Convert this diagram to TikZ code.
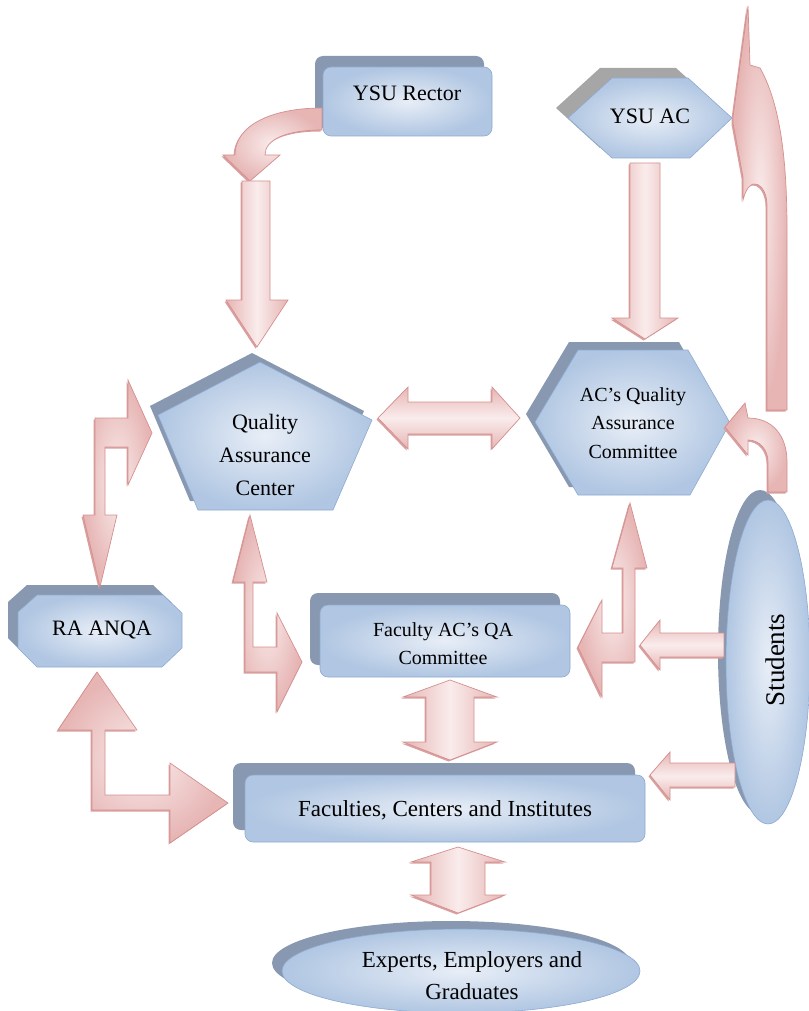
\documentclass[tikz,border=0pt]{standalone}
\usepackage{fontspec}
\setmainfont{Liberation Serif}
\usetikzlibrary{shadows}
\definecolor{bxin}{HTML}{E8EEF7}
\definecolor{bxout}{HTML}{B0C6E2}
\definecolor{bxline}{HTML}{8EAAD0}
\definecolor{shd}{HTML}{8798B0}
\definecolor{shdgray}{HTML}{A6A6A6}
\definecolor{arline}{HTML}{D4908F}
\definecolor{aredge}{HTML}{E6B5B4}
\definecolor{armid}{HTML}{FAECEC}
\definecolor{arshd}{HTML}{D9A09F}
\tikzset{
  bx/.style={draw=bxline, line width=0.6pt, inner color=bxin, outer color=bxout},
  bxshadow/.style={fill=shd, draw=none},
  arshadow/.style={drop shadow={shadow xshift=-1.5pt, shadow yshift=-1.5pt, fill=arshd, opacity=1}},
  arv/.style={arshadow, draw=arline, line width=0.7pt, left color=aredge, right color=aredge, middle color=armid},
  arh/.style={arshadow, draw=arline, line width=0.7pt, top color=aredge, bottom color=aredge, middle color=armid},
  arr/.style={arshadow, draw=arline, line width=0.7pt, inner color=armid, outer color=aredge},
  lbl/.style={align=center, text=black, inner sep=0pt},
}
\begin{document}
\begin{tikzpicture}[x=1pt,y=-1pt]
\useasboundingbox (0,0) rectangle (808,1011);

% ---------- Big curved arrow (right, top) ----------
\path[arr] (748,6) -- (750,65) -- (760,68) .. controls (778,100) and (787,150) .. (787,230)
  -- (787,410) -- (767,410) -- (767,205) .. controls (767,185) and (750,172) .. (743,200)
  -- (743,177) -- (733,123) -- (733,117) -- cycle;

% ---------- YSU Rector ----------
\fill[bxshadow, rounded corners=8pt] (315,56) rectangle (484,128);
\path[bx, rounded corners=8pt] (323,67) rectangle (492,136);
\node[lbl, font=\fontsize{22}{26}\selectfont] (rector) at (407,93) {YSU Rector};

% ---------- YSU AC ----------
\fill[shdgray] (556,108) -- (600,68) -- (676,68) -- (720,108) -- (678,148) -- (600,148) -- cycle;
\path[bx] (568,118) -- (612,78) -- (688,78) -- (732,118) -- (690,158) -- (612,158) -- cycle;
\node[lbl, font=\fontsize{22}{26}\selectfont] (ysuac) at (650,116) {YSU AC};

% ---------- Quality Assurance Center (pentagon) ----------
\fill[bxshadow] (252,353) -- (364,411) -- (325,501) -- (190,501) -- (150,406) -- cycle;
\path[bx] (260,362) -- (372,420) -- (333,510) -- (198,510) -- (158,415) -- cycle;
\node[lbl, font=\fontsize{22}{33}\selectfont] (qac) at (265,455) {Quality\\Assurance\\Center};

% ---------- AC's Quality Assurance Committee (hexagon) ----------
\fill[bxshadow] (526,414) -- (569,342) -- (679,342) -- (721,415) -- (681,487) -- (569,487) -- cycle;
\path[bx] (535,422) -- (578,350) -- (688,350) -- (730,423) -- (690,495) -- (578,495) -- cycle;
\node[lbl, font=\fontsize{20}{28.5}\selectfont] (acqac) at (633,423) {AC’s Quality\\Assurance\\Committee};

% ---------- RA ANQA (octagon) ----------
\fill[bxshadow] (27,585) -- (153,585) -- (172,603) -- (172,638) -- (152,657) -- (27,657) -- (8,638) -- (8,602) -- cycle;
\path[bx] (37,595) -- (163,595) -- (182,613) -- (182,648) -- (162,667) -- (37,667) -- (18,648) -- (18,612) -- cycle;
\node[lbl, font=\fontsize{22}{26}\selectfont] (raanqa) at (102,630) {RA ANQA};

% ---------- Faculty AC's QA Committee ----------
\fill[bxshadow, rounded corners=8pt] (310,593) rectangle (560,665);
\path[bx, rounded corners=8pt] (320,605) rectangle (570,677);
\node[lbl, font=\fontsize{20}{28}\selectfont] (facqa) at (443,644) {Faculty AC’s QA\\Committee};

% ---------- Faculties, Centers and Institutes ----------
\fill[bxshadow, rounded corners=8pt] (233,763) rectangle (635,830);
\path[bx, rounded corners=8pt] (245,775) rectangle (645,842);
\node[lbl, font=\fontsize{23}{27}\selectfont] (fac) at (445,810) {Faculties, Centers and Institutes};

% ---------- Experts ellipse ----------
\fill[bxshadow] (451,963) ellipse [x radius=179, y radius=42];
\path[bx] (461,971) ellipse [x radius=179, y radius=42];
\node[lbl, font=\fontsize{23}{32}\selectfont] (experts) at (472,976) {Experts, Employers and\\Graduates};

% ---------- Students ellipse ----------
\fill[bxshadow] (760,652) ellipse [x radius=42, y radius=162];
\path[bx] (768,662) ellipse [x radius=42, y radius=162];
\node[lbl, rotate=90, font=\fontsize{27}{30}\selectfont] (students) at (775,660) {Students};

% ---------- Arrows ----------
% Rector curved arrow
\path[arr] (322,108) .. controls (272,108) and (235,125) .. (235,155) -- (223,155) -- (250,181)
  -- (280,155) -- (265,155) .. controls (265,140) and (285,130) .. (322,130) -- cycle;
% Rector -> QAC down arrow
\path[arv] (242,181) -- (270,181) -- (270,300) -- (288,300) -- (257,347) -- (226,300) -- (242,300) -- cycle;
% YSU AC -> ACQAC down arrow
\path[arv] (630,163) -- (660,163) -- (660,318) -- (678,318) -- (645,339) -- (612,318) -- (630,318) -- cycle;
% QAC <-> ACQAC
\path[arh] (378,418) -- (408,387) -- (408,402) -- (492,402) -- (492,387) -- (520,418)
  -- (492,449) -- (492,434) -- (408,434) -- (408,449) -- cycle;
% RA ANQA <-> QAC bent arrow
\path[arr] (100,587) -- (117,515) -- (105,515) -- (105,447) -- (128,447) -- (128,485) -- (152,433)
  -- (128,380) -- (128,418) -- (95,418) -- (95,515) -- (83,515) -- cycle;
% QAC <-> Faculty AC's QA bent arrow
\path[arr] (250,515) -- (267,582) -- (253,582) -- (253,647) -- (277,647) -- (277,613) -- (302,662)
  -- (277,712) -- (277,672) -- (245,672) -- (245,582) -- (233,582) -- cycle;
% Faculty AC's QA <-> Faculties
\path[arv] (450,680) -- (497,697) -- (474,697) -- (474,742) -- (497,742) -- (450,760)
  -- (403,742) -- (426,742) -- (426,697) -- (403,697) -- cycle;
% RA ANQA <-> Faculties bent arrow
\path[arr] (97,672) -- (137,730) -- (105,730) -- (105,795) -- (170,795) -- (170,763) -- (228,803)
  -- (170,843) -- (170,810) -- (92,810) -- (92,730) -- (58,730) -- cycle;
% Faculties <-> Experts
\path[arv] (458,847) -- (505,862) -- (485,862) -- (485,895) -- (505,895) -- (458,913)
  -- (411,895) -- (431,895) -- (431,862) -- (411,862) -- cycle;
% Students -> Faculty AC's QA
\path[arh] (640,645) -- (660,620) -- (660,633) -- (724,633) -- (724,657) -- (660,657) -- (660,670) -- cycle;
% Students -> Faculties
\path[arh] (650,775) -- (670,752) -- (670,763) -- (735,763) -- (735,787) -- (670,787) -- (670,800) -- cycle;
% Faculty AC's QA <-> ACQAC bent arrow
\path[arr] (630,503) -- (647,568) -- (635,568) -- (635,662) -- (602,662) -- (602,697) -- (578,647)
  -- (602,600) -- (602,633) -- (623,633) -- (623,568) -- (612,568) -- cycle;
% Students -> ACQAC small curved arrow
\path[arr] (748,418) .. controls (772,418) and (787,435) .. (787,462) -- (787,492) -- (768,492)
  -- (768,462) .. controls (768,450) and (760,440) .. (748,440) -- (748,455) -- (725,427) -- (745,403) -- cycle;
\end{tikzpicture}
\end{document}
